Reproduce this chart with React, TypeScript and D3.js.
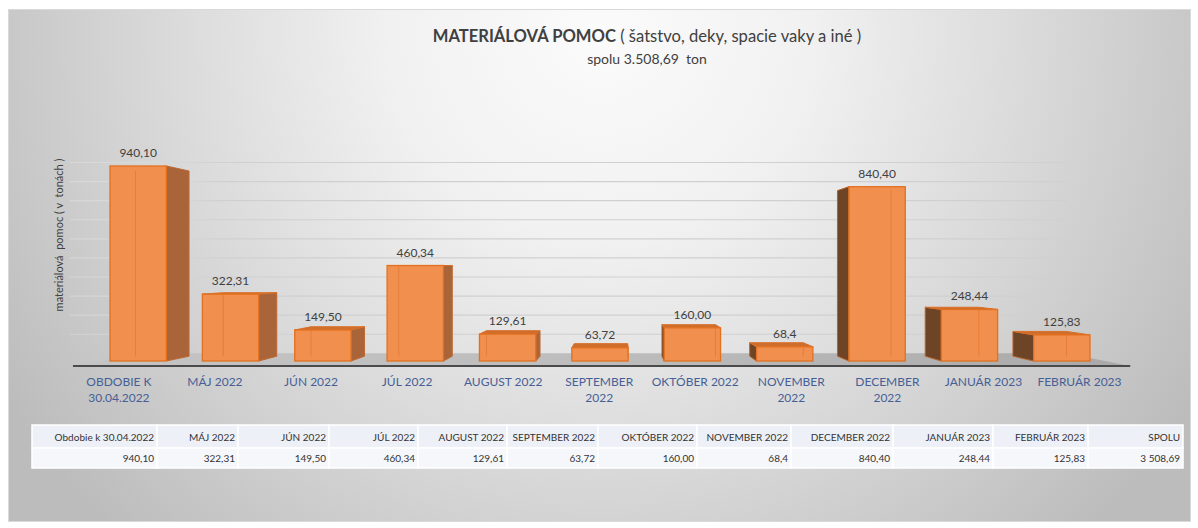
import React, { useEffect, useRef } from 'react';
import * as d3 from 'd3';

// chart data
const categories = [
  'OBDOBIE K 30.04.2022', 'MÁJ 2022', 'JÚN 2022', 'JÚL 2022', 'AUGUST 2022', 'SEPTEMBER 2022',
  'OKTÓBER 2022', 'NOVEMBER 2022', 'DECEMBER 2022', 'JANUÁR 2023', 'FEBRUÁR 2023',
];
const axisLabels = [
  ['OBDOBIE K', '30.04.2022'], ['MÁJ 2022'], ['JÚN 2022'], ['JÚL 2022'], ['AUGUST 2022'], ['SEPTEMBER', '2022'],
  ['OKTÓBER 2022'], ['NOVEMBER', '2022'], ['DECEMBER', '2022'], ['JANUÁR 2023'], ['FEBRUÁR 2023'],
];
const values = [940.10, 322.31, 149.50, 460.34, 129.61, 63.72, 160.00, 68.4, 840.40, 248.44, 125.83];
const valueLabels = ['940,10', '322,31', '149,50', '460,34', '129,61', '63,72', '160,00', '68,4', '840,40', '248,44', '125,83'];
const tableHeaders = [
  'Obdobie k 30.04.2022', 'MÁJ 2022', 'JÚN 2022', 'JÚL 2022', 'AUGUST 2022', 'SEPTEMBER 2022',
  'OKTÓBER 2022', 'NOVEMBER 2022', 'DECEMBER 2022', 'JANUÁR 2023', 'FEBRUÁR 2023', 'SPOLU',
];
const tableValues = [...valueLabels, '3 508,69'];
const yMax = 1000;

// layout
const W = 1198;
const H = 528;
const FONT = 'Lato, "Open Sans", sans-serif';
const VP: [number, number] = [620, 265]; // vanishing point of the fake perspective
const BAR_DEPTH = 0.05;
const WALL_DEPTH = 0.08;
const FLOOR_FRONT = -0.052;
const LABEL_DEPTH = -0.04;
const tableEdges = [32, 157, 238, 329, 418, 507, 598, 697, 791, 893, 993, 1088, 1183];

const proj = (x: number, y: number, z: number): [number, number] =>
  [x + z * (VP[0] - x), y + z * (VP[1] - y)];

const App = () => {
  const ref = useRef<SVGSVGElement>(null);

  useEffect(() => {
    const svg = d3.select(ref.current);
    svg.selectAll('*').remove();

    const defs = svg.append('defs');
    const bg = defs.append('radialGradient')
      .attr('id', 'bg')
      .attr('gradientUnits', 'userSpaceOnUse')
      .attr('cx', 600).attr('cy', 30).attr('r', 700);
    [[0, '#fbfbfb'], [0.3, '#f1f1f1'], [0.6, '#dbdbdb'], [1, '#bcbcbc']].forEach(([o, c]) =>
      bg.append('stop').attr('offset', o as number).attr('stop-color', c as string));

    const floorGrad = defs.append('linearGradient').attr('id', 'floor').attr('x1', 0).attr('x2', 1);
    [[0, '#c4c4c4'], [0.5, '#bdbdbd'], [1, '#a9a9a9']].forEach(([o, c]) =>
      floorGrad.append('stop').attr('offset', o as number).attr('stop-color', c as string));

    const gridGrad = defs.append('linearGradient').attr('id', 'grid')
      .attr('gradientUnits', 'userSpaceOnUse').attr('x1', 70).attr('x2', 1067);
    [[0, '#e6e6e6', 0.4], [0.15, '#d0d0d0', 1], [1, '#d0d0d0', 1]].forEach(([o, c, op]) =>
      gridGrad.append('stop').attr('offset', o as number).attr('stop-color', c as string)
        .attr('stop-opacity', op as number));

    svg.append('rect').attr('width', W).attr('height', H).attr('fill', '#ffffff');
    svg.append('rect')
      .attr('x', 8.5).attr('y', 9.5).attr('width', 1182).attr('height', 512)
      .attr('fill', 'url(#bg)').attr('stroke', '#d9d9d9');

    const x = d3.scaleBand<string>()
      .domain(categories)
      .range([92, 1108])
      .paddingInner(0.39)
      .paddingOuter(0.195);

    const y = d3.scaleLinear().domain([0, yMax]).range([361, 153.6]);
    const y0 = y(0);

    // gridlines on the back wall
    svg.append('g').selectAll('line')
      .data(y.ticks(10).filter(t => t > 0))
      .enter()
      .append('line')
      .attr('x1', 70).attr('x2', 1067)
      .attr('y1', d => proj(0, y(d), WALL_DEPTH)[1])
      .attr('y2', d => proj(0, y(d), WALL_DEPTH)[1])
      .attr('stroke', 'url(#grid)')
      .attr('stroke-width', 1.2);

    // floor
    const fx0 = 100;
    const fx1 = 1105;
    const floorPts = [
      proj(fx0, y0, FLOOR_FRONT), proj(fx1, y0, FLOOR_FRONT),
      proj(fx1, y0, WALL_DEPTH), proj(fx0, y0, WALL_DEPTH),
    ];
    svg.append('polygon')
      .attr('points', floorPts.map(p => p.join(',')).join(' '))
      .attr('fill', 'url(#floor)');
    svg.append('line')
      .attr('x1', floorPts[0][0]).attr('x2', floorPts[1][0])
      .attr('y1', floorPts[0][1]).attr('y2', floorPts[1][1])
      .attr('stroke', '#4a4a4a').attr('stroke-width', 2);

    // 3d bars
    const poly = (pts: [number, number][]) => pts.map(p => p.join(',')).join(' ');
    const bars = svg.append('g');
    categories.forEach((c, i) => {
      const bx0 = x(c) as number;
      const bx1 = bx0 + x.bandwidth();
      const yt = y(values[i]);
      const g = bars.append('g');

      if (bx1 < VP[0]) {
        g.append('polygon')
          .attr('points', poly([[bx1, yt], proj(bx1, yt, BAR_DEPTH), proj(bx1, y0, BAR_DEPTH), [bx1, y0]]))
          .attr('fill', '#a9643a').attr('stroke', '#c06a30').attr('stroke-width', 1);
      }
      if (bx0 > VP[0]) {
        g.append('polygon')
          .attr('points', poly([[bx0, yt], proj(bx0, yt, BAR_DEPTH), proj(bx0, y0, BAR_DEPTH), [bx0, y0]]))
          .attr('fill', '#6e4427').attr('stroke', '#b8622a').attr('stroke-width', 1);
      }
      if (yt > VP[1]) {
        g.append('polygon')
          .attr('points', poly([[bx0, yt], [bx1, yt], proj(bx1, yt, BAR_DEPTH), proj(bx0, yt, BAR_DEPTH)]))
          .attr('fill', '#cf6e2c').attr('stroke', '#d96f28').attr('stroke-width', 1);
      }
      g.append('rect')
        .attr('x', bx0).attr('y', yt)
        .attr('width', bx1 - bx0).attr('height', y0 - yt)
        .attr('fill', '#f18f4e')
        .attr('stroke', '#e2701f').attr('stroke-width', 1.3);

      // back edge showing through the front
      const backX = bx1 < VP[0] ? bx0 : bx1;
      const b1 = proj(backX, yt, BAR_DEPTH);
      const b2 = proj(backX, y0, BAR_DEPTH);
      g.append('line')
        .attr('x1', b1[0]).attr('y1', Math.max(b1[1], yt + 1))
        .attr('x2', b2[0]).attr('y2', Math.min(b2[1], y0 - 1))
        .attr('stroke', '#e47a34').attr('stroke-width', 1).attr('opacity', 0.8);

      g.append('text')
        .attr('x', (bx0 + bx1) / 2)
        .attr('y', yt - 9)
        .attr('text-anchor', 'middle')
        .attr('font-family', FONT)
        .attr('font-size', 12)
        .attr('fill', '#404040')
        .text(valueLabels[i]);
    });

    // category labels, placed in front of the floor
    const xl = svg.append('g');
    categories.forEach((c, i) => {
      const cx = proj((x(c) as number) + x.bandwidth() / 2, y0, LABEL_DEPTH)[0];
      const t = xl.append('text')
        .attr('text-anchor', 'middle')
        .attr('font-family', FONT)
        .attr('font-size', 12)
        .attr('fill', '#465f96');
      axisLabels[i].forEach((line, j) => {
        t.append('tspan').attr('x', cx).attr('y', 386 + j * 16).text(line);
      });
    });

    // y axis title
    svg.append('text')
      .attr('transform', 'translate(63,235) rotate(-90)')
      .attr('text-anchor', 'middle')
      .attr('font-family', FONT)
      .attr('font-size', 11)
      .attr('fill', '#404040')
      .style('white-space', 'pre')
      .text('materiálová  pomoc ( v  tonách )');

    // title
    const title = svg.append('text')
      .attr('x', 647).attr('y', 42)
      .attr('text-anchor', 'middle')
      .attr('font-family', FONT)
      .attr('font-size', 16.6)
      .attr('fill', '#404040');
    title.append('tspan').attr('font-weight', 'bold').text('MATERIÁLOVÁ POMOC');
    title.append('tspan').text(' ( šatstvo, deky, spacie vaky a iné )');

    svg.append('text')
      .attr('x', 647).attr('y', 64)
      .attr('text-anchor', 'middle')
      .attr('font-family', FONT)
      .attr('font-size', 14)
      .attr('fill', '#404040')
      .style('white-space', 'pre')
      .text('spolu 3.508,69  ton');

    // data table
    const table = svg.append('g');
    const rows = [
      { top: 425, h: 23, fill: '#eef0f7', cells: tableHeaders },
      { top: 448, h: 20, fill: '#f6f7fb', cells: tableValues },
    ];
    rows.forEach(r => {
      r.cells.forEach((txt, k) => {
        const left = tableEdges[k];
        const right = tableEdges[k + 1];
        table.append('rect')
          .attr('x', left).attr('y', r.top)
          .attr('width', right - left).attr('height', r.h)
          .attr('fill', r.fill)
          .attr('stroke', '#ffffff').attr('stroke-width', 1.5);
        table.append('text')
          .attr('x', right - 3)
          .attr('y', r.top + r.h / 2 + 4)
          .attr('text-anchor', 'end')
          .attr('font-family', FONT)
          .attr('font-size', 10)
          .attr('fill', '#333333')
          .text(txt);
      });
    });
  }, []);

  return (
    <svg
      ref={ref}
      width={W}
      height={H}
      style={{ position: 'absolute', left: 0, top: 0 }}
    />
  );
};

export default App;
